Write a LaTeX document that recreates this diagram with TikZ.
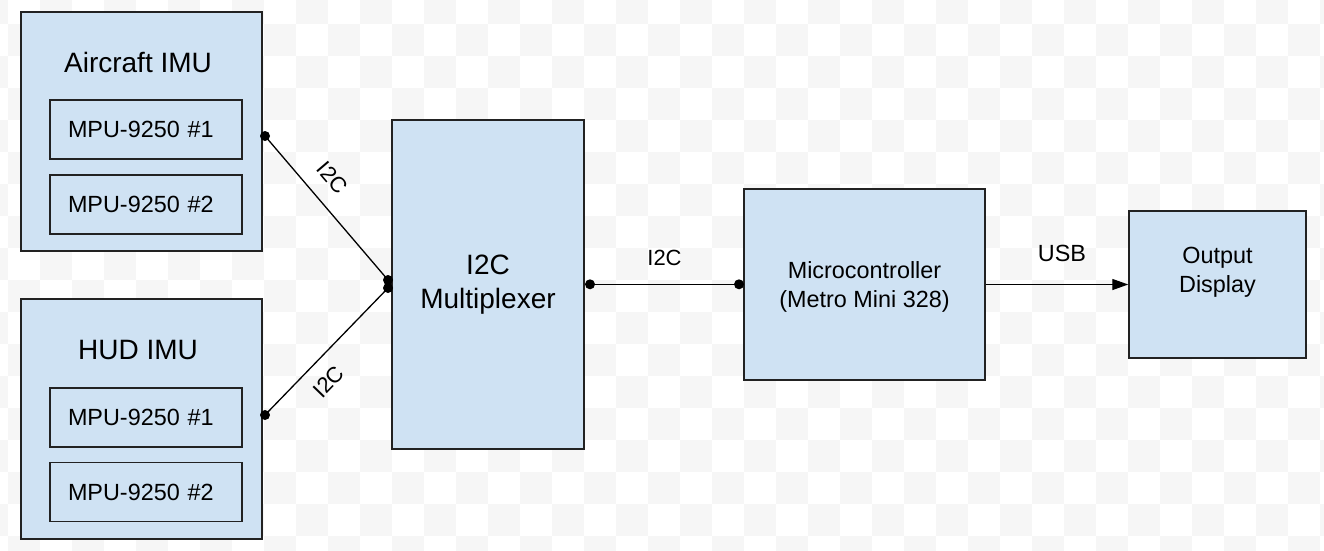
\documentclass[tikz,border=0pt]{standalone}
\usepackage{fontspec}
\setmainfont{Liberation Sans}
\usetikzlibrary{arrows.meta}
\definecolor{boxfill}{HTML}{CFE2F3}
\definecolor{boxline}{HTML}{222222}
\definecolor{checker}{gray}{0.965}
\newcommand\titlefont{\fontsize{28}{34}\selectfont}
\newcommand\chipfont{\fontsize{23.4}{29}\selectfont}
\newcommand\labfont{\fontsize{22}{29}\selectfont}
\tikzset{
  box/.style={draw=boxline, fill=boxfill, line width=1.5pt, inner sep=0pt},
  chip/.style={box, minimum width=192pt, minimum height=59pt, text width=156pt, align=left, font=\chipfont},
  boxtxt/.style={font=\chipfont, align=center, inner sep=0pt},
  dot/.style={circle, fill=black, inner sep=0pt, minimum size=10pt},
  wire/.style={line width=1.3pt},
  lbl/.style={font=\labfont, inner sep=0pt},
}
\begin{document}
\begin{tikzpicture}[x=1pt, y=-1pt]
  \useasboundingbox (0,0) rectangle (1324,550);
  \clip (0,0) rectangle (1324,550);
  % checkerboard background
  \foreach \c in {-1,...,41} {
    \foreach \r in {-1,...,16} {
      \pgfmathtruncatemacro\odd{mod(\c+\r+2,2)}
      \ifnum\odd=0
        \fill[checker] (8+32*\c, 24+32*\r) rectangle ++(32,32);
      \fi
    }
  }
  % IMU boxes
  \node[box, minimum width=241pt, minimum height=239pt] (air) at (141.5,131.5) {};
  \node[font=\titlefont, anchor=base] (airT) at (138,72.7) {Aircraft IMU};
  \node[chip] (air1) at (146,129.5) {MPU-9250 \#1};
  \node[chip] (air2) at (146,204.5) {MPU-9250 \#2};
  \node[box, minimum width=241pt, minimum height=240pt] (hud) at (141.5,419) {};
  \node[font=\titlefont, anchor=base] (hudT) at (138,359) {HUD IMU};
  \node[chip] (hud1) at (146,417.5) {MPU-9250 \#1};
  \node[chip] (hud2) at (146,492) {MPU-9250 \#2};
  % right chain
  \node[box, minimum width=192pt, minimum height=329pt, font=\titlefont, align=center] (mux) at (488,284.5) {I2C\\Multiplexer};
  \node[box, minimum width=241pt, minimum height=191pt,
        label={[boxtxt, yshift=-2.5pt]center:{Microcontroller\\(Metro Mini 328)}}] (mcu) at (864.5,284.5) {};
  \node[box, minimum width=177pt, minimum height=147pt,
        label={[boxtxt, yshift=12pt]center:{Output\\Display}}] (disp) at (1217.5,284.5) {};
  % connection dots
  \node[dot] (airP) at (265,136) {};
  \node[dot] (hudP) at (265,415) {};
  \node[dot] (muxA) at (388,280) {};
  \node[dot] (muxB) at (388,288) {};
  \node[dot] (muxO) at (590,284.3) {};
  \node[dot] (mcuI) at (739,284.3) {};
  % wires
  \draw[wire] (airP.center) -- node[lbl, sloped, pos=0.4, above=16pt] (busA) {I2C} (muxA.center);
  \draw[wire] (hudP.center) -- node[lbl, sloped, pos=0.385, below=14pt] (busB) {I2C} (muxB.center);
  \draw[wire] (muxO.center) -- node[lbl, above=18pt] (busC) {I2C} (mcuI.center);
  \draw[wire, -{Triangle[length=16pt, width=11pt]}] (mcu.east) -- node[lbl, font=\chipfont, pos=0.535, above=22pt] (usb) {USB} (disp.west);
\end{tikzpicture}
\end{document}
